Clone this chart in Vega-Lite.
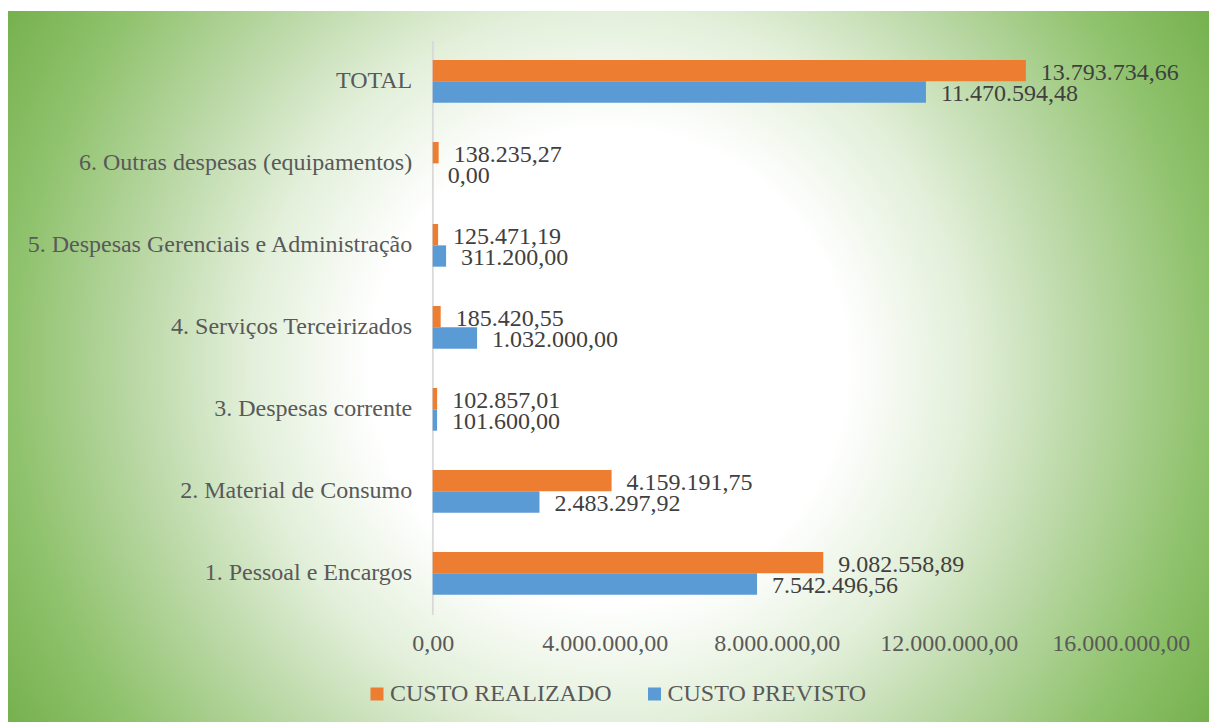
{
  "$schema": "https://vega.github.io/schema/vega-lite/v6.json",
  "width": 1201,
  "height": 711,
  "padding": {"left": 8, "top": 11, "right": 0, "bottom": 0},
  "autosize": {"type": "none"},
  "background": "#ffffff",
  "data": {
    "values": [
      {"cat": "TOTAL", "serie": "CUSTO REALIZADO", "valor": 13793734.66},
      {"cat": "TOTAL", "serie": "CUSTO PREVISTO", "valor": 11470594.48},
      {"cat": "6. Outras despesas (equipamentos)", "serie": "CUSTO REALIZADO", "valor": 138235.27},
      {"cat": "6. Outras despesas (equipamentos)", "serie": "CUSTO PREVISTO", "valor": 0},
      {"cat": "5. Despesas Gerenciais e Administração", "serie": "CUSTO REALIZADO", "valor": 125471.19},
      {"cat": "5. Despesas Gerenciais e Administração", "serie": "CUSTO PREVISTO", "valor": 311200.00},
      {"cat": "4. Serviços Terceirizados", "serie": "CUSTO REALIZADO", "valor": 185420.55},
      {"cat": "4. Serviços Terceirizados", "serie": "CUSTO PREVISTO", "valor": 1032000.00},
      {"cat": "3. Despesas corrente ", "serie": "CUSTO REALIZADO", "valor": 102857.01},
      {"cat": "3. Despesas corrente ", "serie": "CUSTO PREVISTO", "valor": 101600.00},
      {"cat": "2. Material de Consumo", "serie": "CUSTO REALIZADO", "valor": 4159191.75},
      {"cat": "2. Material de Consumo", "serie": "CUSTO PREVISTO", "valor": 2483297.92},
      {"cat": "1. Pessoal e Encargos", "serie": "CUSTO REALIZADO", "valor": 9082558.89},
      {"cat": "1. Pessoal e Encargos", "serie": "CUSTO PREVISTO", "valor": 7542496.56}
    ]
  },
  "layer": [
    {
      "mark": {"type": "rect", "color": "#d9d9d9", "stroke": "#d9d9d9", "strokeWidth": 1.5},
      "encoding": {
        "y": {
          "field": "cat",
          "type": "nominal",
          "sort": ["TOTAL", "6. Outras despesas (equipamentos)", "5. Despesas Gerenciais e Administração", "4. Serviços Terceirizados", "3. Despesas corrente ", "2. Material de Consumo", "1. Pessoal e Encargos"],
          "scale": {"paddingInner": 0, "paddingOuter": 0.835, "align": 0.219},
          "axis": null
        },
        "x": {"datum": 0, "type": "quantitative", "scale": {"domain": [-9877000, 18053000], "nice": false, "zero": false}},
        "x2": {"datum": 0}
      }
    },
    {
      "encoding": {
        "y": {
          "field": "cat",
          "type": "nominal",
          "sort": ["TOTAL", "6. Outras despesas (equipamentos)", "5. Despesas Gerenciais e Administração", "4. Serviços Terceirizados", "3. Despesas corrente ", "2. Material de Consumo", "1. Pessoal e Encargos"],
          "scale": {"paddingInner": 0.3, "paddingOuter": 0.9854, "align": 0.2577},
          "axis": {
            "title": null,
            "domain": false,
            "ticks": false,
            "tickSize": 0,
            "labelPadding": 21,
            "offset": -424.7,
            "labelFont": "Liberation Serif",
            "labelFontSize": 24,
            "labelColor": "#595959",
            "labelLimit": 600
          }
        },
        "yOffset": {"field": "serie", "type": "nominal", "sort": ["CUSTO REALIZADO", "CUSTO PREVISTO"], "scale": {"paddingInner": 0, "paddingOuter": 0.344}},
        "x": {
          "field": "valor",
          "type": "quantitative",
          "scale": {"domain": [-9877000, 18053000], "nice": false, "zero": false},
          "axis": {
            "title": null,
            "values": [0, 4000000, 8000000, 12000000, 16000000],
            "format": ",.2f",
            "domain": false,
            "ticks": false,
            "tickSize": 0,
            "grid": false,
            "labelPadding": 0,
            "offset": -90.5,
            "labelFont": "Liberation Serif",
            "labelFontSize": 24,
            "labelColor": "#595959"
          }
        }
      },
      "layer": [
        {
          "mark": {"type": "bar"},
          "encoding": {
            "color": {
              "field": "serie",
              "type": "nominal",
              "scale": {"domain": ["CUSTO REALIZADO", "CUSTO PREVISTO"], "range": ["#ED7D31", "#5B9BD5"]},
              "legend": {
                "orient": "none",
                "legendX": 357,
                "legendY": 671,
                "direction": "horizontal",
                "title": null,
                "symbolType": "square",
                "symbolSize": 169,
                "symbolStrokeWidth": 0,
                "symbolOpacity": 1,
                "labelFont": "Liberation Serif",
                "labelFontSize": 24,
                "labelColor": "#595959",
                "labelOffset": 1,
                "columnPadding": 30.5,
                "padding": 0,
                "labelLimit": 400
              }
            }
          }
        },
        {
          "mark": {"type": "text", "align": "left", "baseline": "middle", "dx": 15, "dy": 2, "font": "Liberation Serif", "fontSize": 24, "color": "#404040"},
          "encoding": {
            "text": {"field": "valor", "type": "quantitative", "format": ",.2f"}
          }
        }
      ]
    }
  ],
  "resolve": {"scale": {"y": "independent"}},
  "config": {
    "font": "Liberation Serif",
    "locale": {"number": {"decimal": ",", "thousands": ".", "grouping": [3], "currency": ["R$", ""]}},
    "view": {
      "stroke": null,
      "fill": {
        "gradient": "radial",
        "x1": 0.5, "y1": 0.5, "r1": 0,
        "x2": 0.5, "y2": 0.5, "r2": 0.6,
        "stops": [
          {"offset": 0, "color": "#ffffff"},
          {"offset": 0.33, "color": "#ffffff"},
          {"offset": 0.5, "color": "#e2efd9"},
          {"offset": 0.65, "color": "#bcd9a8"},
          {"offset": 0.83, "color": "#8fc26c"},
          {"offset": 1, "color": "#70ad47"}
        ]
      }
    }
  }
}
